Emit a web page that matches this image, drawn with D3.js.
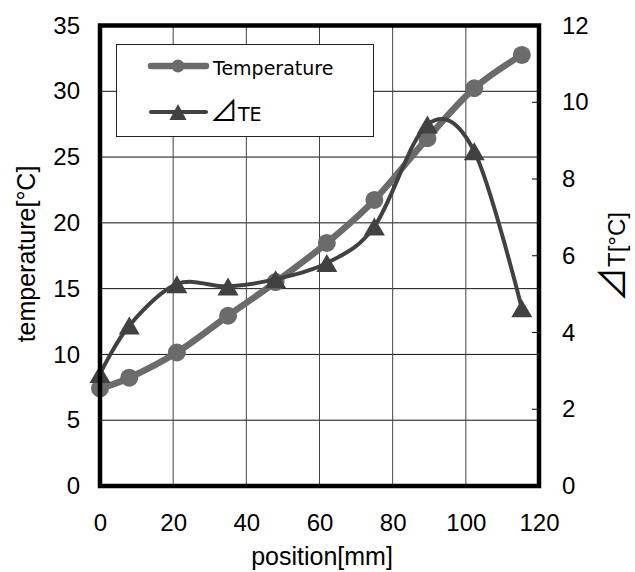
<!DOCTYPE html>
<html><head><meta charset="utf-8">
<script src="https://cdn.jsdelivr.net/npm/d3@7"></script>
<style>html,body{margin:0;padding:0;background:#fff;}svg{display:block;}</style>
</head><body>
<script>
// ---- data ----
const positions   = [0, 8, 21, 35, 48, 62, 75, 89.5, 102.3, 115.3];
const temperature = [7.42, 8.23, 10.15, 12.94, 15.5, 18.47, 21.74, 26.43, 30.23, 32.76];
const deltaTE     = [2.92, 4.18, 5.26, 5.2, 5.39, 5.81, 6.76, 9.42, 8.72, 4.63];
const xTicks = [0, 20, 40, 60, 80, 100, 120];
const leftTicks = [0, 5, 10, 15, 20, 25, 30, 35];
const rightTicks = [0, 2, 4, 6, 8, 10, 12];
const seriesNames = ["Temperature", "TE"];
const triGlyph = "\u22BF";

const W = 635, H = 572;
const L = 100, R = 539, T = 25.5, B = 486;
const svg = d3.select("body").append("svg").attr("width", W).attr("height", H);

const x = d3.scaleLinear().domain([0, 120]).range([L, R]);
const yL = d3.scaleLinear().domain([0, 35]).range([B, T]);
const yR = d3.scaleLinear().domain([0, 12]).range([B, T]);

const font = "'Liberation Sans', Arial, 'DejaVu Sans', sans-serif";
const cjk = "'Noto Sans CJK JP', 'Noto Sans CJK SC', sans-serif";

// grid
const grid = svg.append("g");
grid.selectAll("line.h").data(leftTicks.slice(1, -1)).enter().append("line")
  .attr("x1", L).attr("x2", R).attr("y1", d => yL(d)).attr("y2", d => yL(d))
  .attr("stroke", "#111").attr("stroke-width", 1);
grid.selectAll("line.v").data(xTicks.slice(1, -1)).enter().append("line")
  .attr("y1", T).attr("y2", B).attr("x1", d => x(d)).attr("x2", d => x(d))
  .attr("stroke", "#444").attr("stroke-width", 1);
// right axis inner ticks
grid.selectAll("line.rt").data(rightTicks.slice(1, -1)).enter().append("line")
  .attr("x1", R - 7).attr("x2", R).attr("y1", d => yR(d)).attr("y2", d => yR(d))
  .attr("stroke", "#000").attr("stroke-width", 1);

// axes (labels only, via d3 axes)
const axB = svg.append("g").attr("transform", `translate(0,${B})`)
  .call(d3.axisBottom(x).tickValues(xTicks).tickSize(0).tickPadding(0));
axB.select(".domain").remove();
axB.selectAll("text").attr("dy", null).attr("y", 45).style("font-family", font).style("font-size", "24px").attr("fill", "#000");

const axL = svg.append("g").attr("transform", `translate(${L},0)`)
  .call(d3.axisLeft(yL).tickValues(leftTicks).tickSize(0).tickPadding(20));
axL.select(".domain").remove();
axL.selectAll("text").style("font-family", font).style("font-size", "24px").attr("fill", "#000");

const axR = svg.append("g").attr("transform", `translate(${R},0)`)
  .call(d3.axisRight(yR).tickValues(rightTicks).tickSize(0).tickPadding(23));
axR.select(".domain").remove();
axR.selectAll("text").style("font-family", font).style("font-size", "24px").attr("fill", "#000");

// lines
const pts1 = positions.map((p, i) => [x(p), yL(temperature[i])]);
const pts2 = positions.map((p, i) => [x(p), yR(deltaTE[i])]);
const lineGen = d3.line().curve(d3.curveCardinal.tension(0));

const c1 = "#6b6b6b", c2 = "#414141";
svg.append("path").attr("d", lineGen(pts1)).attr("fill", "none").attr("stroke", c1)
  .attr("stroke-width", 6.5).attr("stroke-linejoin", "round");
svg.selectAll("circle.t").data(pts1).enter().append("circle")
  .attr("cx", d => d[0]).attr("cy", d => d[1]).attr("r", 9).attr("fill", c1);

svg.append("path").attr("d", lineGen(pts2)).attr("fill", "none").attr("stroke", c2)
  .attr("stroke-width", 4).attr("stroke-linejoin", "round");
const tri = (w, h) => `M0,${-h/2}L${w/2},${h/2}L${-w/2},${h/2}Z`;
svg.selectAll("path.tri").data(pts2).enter().append("path")
  .attr("d", tri(21, 18)).attr("transform", d => `translate(${d[0]},${d[1]})`).attr("fill", c2);

// legend
const lg = svg.append("g");
lg.append("rect").attr("x", 116.5).attr("y", 44.5).attr("width", 257).attr("height", 92)
  .attr("fill", "#fff").attr("stroke", "#222").attr("stroke-width", 1);
lg.append("line").attr("x1", 151).attr("x2", 206).attr("y1", 66).attr("y2", 66)
  .attr("stroke", c1).attr("stroke-width", 6.5).attr("stroke-linecap", "round");
lg.append("circle").attr("cx", 178).attr("cy", 66).attr("r", 6.5).attr("fill", c1);
lg.append("line").attr("x1", 151).attr("x2", 206).attr("y1", 112).attr("y2", 112)
  .attr("stroke", c2).attr("stroke-width", 4).attr("stroke-linecap", "round");
lg.append("path").attr("d", tri(17, 16)).attr("transform", "translate(178,112)").attr("fill", c2);
lg.append("text").attr("x", 213).attr("y", 75).text(seriesNames[0])
  .style("font-family", "'DejaVu Sans', sans-serif").style("font-size", "19px");
const lt2 = lg.append("text").attr("x", 210).attr("y", 121)
  .style("font-family", "'DejaVu Sans', sans-serif").style("font-size", "19px");
lt2.append("tspan").style("font-family", cjk).style("font-size", "28px").text(triGlyph);
lt2.append("tspan").text(seriesNames[1]);

// border
svg.append("rect").attr("x", L).attr("y", T).attr("width", R - L).attr("height", B - T)
  .attr("fill", "none").attr("stroke", "#000").attr("stroke-width", 4.5);

// axis titles
svg.append("text").attr("x", 322).attr("y", 565).attr("text-anchor", "middle")
  .style("font-family", font).style("font-size", "25px").text("position[mm]");
svg.append("text").attr("transform", "translate(35,254) rotate(-90)").attr("text-anchor", "middle")
  .style("font-family", font).style("font-size", "25px").text("temperature[°C]");
const rt = svg.append("text").attr("transform", "translate(625,257) rotate(-90)").attr("text-anchor", "middle")
  .style("font-family", font).style("font-size", "24px");
rt.append("tspan").style("font-family", cjk).style("font-size", "35px").text(triGlyph);
rt.append("tspan").text("T[°C]");
</script>
</body></html>
